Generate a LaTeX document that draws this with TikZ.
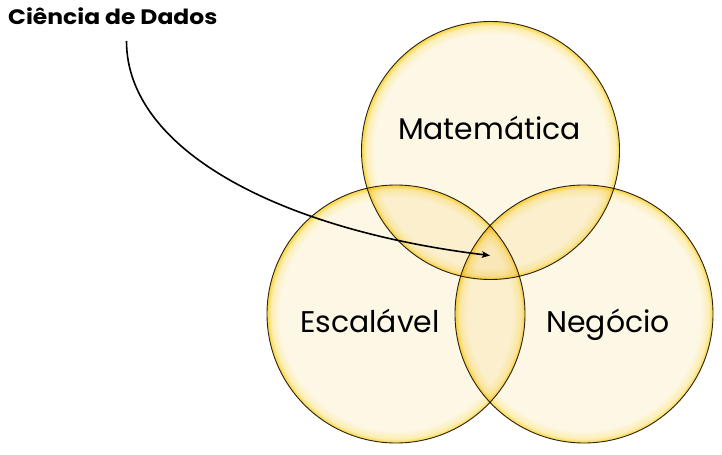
\documentclass[tikz,border=0pt]{standalone}
\usepackage{fontspec}
\setmainfont{Poppins}
\usetikzlibrary{arrows.meta}

\definecolor{vcream}{RGB}{253,247,229}
\definecolor{vmid}{RGB}{252,238,178}
\definecolor{vrim}{RGB}{249,212,62}
\definecolor{vline}{RGB}{45,38,25}

% cream disc with a golden glow towards the rim
% (a shaded path is fitted to the inner 50bp square, so the rim sits at 25bp)
\pgfdeclareradialshading{vennglow}{\pgfpoint{0bp}{0bp}}{%
  color(0bp)=(vcream);
  color(22.6bp)=(vcream);
  color(24.2bp)=(vmid);
  color(25bp)=(vrim);
  color(50bp)=(vrim)}

\begin{document}
\begin{tikzpicture}[x=1bp,y=-1bp,
  venn/.style={circle, minimum size=258bp, inner sep=0pt,
    shade, shading=vennglow, blend mode=multiply,
    draw=vline, line width=0.9bp},
  setlabel/.style={font=\fontsize{30}{34}\selectfont, text=black, anchor=base, inner sep=0pt},
  pointer/.style={line width=1.6bp, -{Stealth[length=8bp,width=6.5bp,inset=1.5bp]}}]
  \useasboundingbox (0,0) rectangle (722,455);

  % the three sets
  \node[venn] (mat) at (490.5,150.5) {};
  \node[venn] (esc) at (396,314) {};
  \node[venn] (neg) at (584,314) {};

  \node[setlabel] (tmat) at (489.5,139.5) {Matemática};
  \node[setlabel] (tesc) at (370,333) {Escalável};
  \node[setlabel] (tneg) at (608,333) {Negócio};

  % title and its pointer to the common region
  \node[font=\fontsize{21}{24}\selectfont\bfseries, anchor=base west, inner sep=0pt]
    (title) at (8,25) {\scalebox{1.12}[1]{Ciência de Dados}};
  \coordinate (from) at (126.5,41);
  \coordinate (centre) at (490,255.5);
  \draw[pointer] (from) .. controls (126.5,150) and (280,230) .. (centre);
\end{tikzpicture}
\end{document}
